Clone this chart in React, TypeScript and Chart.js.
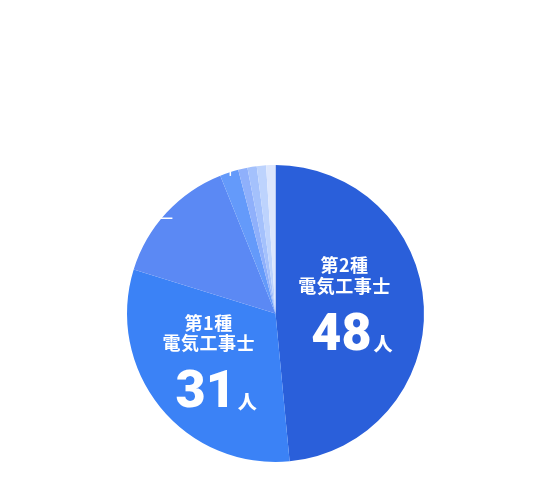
import { useEffect, useRef } from 'react'
import { Chart, ChartConfiguration, Plugin, registerables } from 'chart.js'

Chart.register(...registerables)

const categories = [
  '第2種電気工事士',
  '第1種電気工事士',
  'その他A',
  'その他B',
  'その他C',
  'その他D',
  'その他E',
  'その他F',
]
const counts = [48, 31, 14, 2, 1, 1, 1, 1]
const sliceColors = ['#2a5fda', '#3b82f6', '#5b89f4', '#649afa', '#8fb0fb', '#a4c1fc', '#bdd3fd', '#dce6fd']

// inside labels for the two big slices
const labelTitles = ['第2種', '第1種']
const labelSubtitles = ['電気工事士', '電気工事士']
const unit = '人'

const cjkFont = '"Noto Sans CJK JP", "Noto Sans", sans-serif'

const sliceLabels: Plugin<'pie'> = {
  id: 'sliceLabels',
  afterDatasetsDraw(chart) {
    const ctx = chart.ctx
    const meta = chart.getDatasetMeta(0)
    ctx.save()

    // white leader lines of the (hidden) outside labels
    const leaders = [
      { index: 2, k: 0.945, dx: -40, dy: 0 },
      { index: 3, k: 0.975, dx: 0, dy: -30 },
    ]
    ctx.strokeStyle = '#ffffff'
    ctx.lineWidth = 1.5
    leaders.forEach(l => {
      const arc: any = meta.data[l.index]
      const { x, y, startAngle, endAngle, outerRadius } = arc.getProps(['x', 'y', 'startAngle', 'endAngle', 'outerRadius'], true)
      const mid = (startAngle + endAngle) / 2
      const px = x + Math.cos(mid) * outerRadius * l.k
      const py = y + Math.sin(mid) * outerRadius * l.k
      ctx.beginPath()
      ctx.moveTo(px, py)
      ctx.lineTo(px + l.dx, py + l.dy)
      ctx.stroke()
    })

    const radii = [0.465, 0.58]
    ctx.fillStyle = '#ffffff'
    labelTitles.forEach((title, i) => {
      const arc: any = meta.data[i]
      const { x, y, startAngle, endAngle, outerRadius } = arc.getProps(['x', 'y', 'startAngle', 'endAngle', 'outerRadius'], true)
      const mid = (startAngle + endAngle) / 2
      const ax = x + Math.cos(mid) * outerRadius * radii[i]
      const ay = y + Math.sin(mid) * outerRadius * radii[i]

      ctx.textAlign = 'center'
      ctx.textBaseline = 'middle'
      ctx.font = `bold 18px ${cjkFont}`
      ctx.letterSpacing = '0.5px'
      ctx.fillText(title, ax, ay - 45)
      ctx.fillText(labelSubtitles[i], ax, ay - 24.3)

      ctx.letterSpacing = '0px'
      ctx.textBaseline = 'alphabetic'
      ctx.font = '900 52px Roboto, sans-serif'
      const num = String(counts[i])
      const w = ctx.measureText(num).width
      ctx.fillText(num, ax - 3, ay + 39.5)

      ctx.textAlign = 'left'
      ctx.font = `900 19px ${cjkFont}`
      ctx.fillText(unit, ax - 3 + w / 2 + 2, ay + 41)
    })
    ctx.restore()
  },
}

export default function App() {
  const canvasRef = useRef<HTMLCanvasElement>(null)
  const chartRef = useRef<Chart | null>(null)

  useEffect(() => {
    if (!canvasRef.current) return
    if (chartRef.current) chartRef.current.destroy()

    const config: ChartConfiguration<'pie'> = {
      type: 'pie',
      data: {
        labels: categories,
        datasets: [{
          data: counts,
          backgroundColor: sliceColors,
          borderWidth: 0,
          hoverOffset: 0,
          offset: 0,
        }],
      },
      options: {
        responsive: true,
        maintainAspectRatio: false,
        animation: false,
        events: [],
        layout: {
          padding: { left: 127, right: 126, top: 165, bottom: 28 },
        },
        plugins: {
          legend: { display: false },
          tooltip: { enabled: false },
        },
      },
      plugins: [sliceLabels],
    }

    chartRef.current = new Chart(canvasRef.current, config)

    return () => {
      if (chartRef.current) {
        chartRef.current.destroy()
        chartRef.current = null
      }
    }
  }, [])

  return (
    <div style={{ position: 'absolute', left: 0, top: 0, width: 550, height: 490, background: '#ffffff' }}>
      <canvas ref={canvasRef} />
    </div>
  )
}
